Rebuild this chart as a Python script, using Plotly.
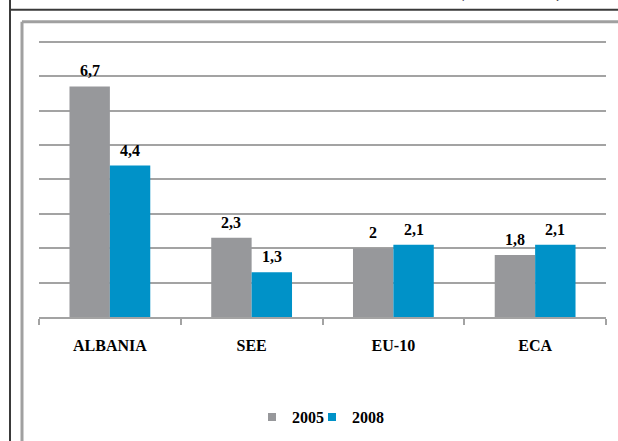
import plotly.graph_objects as go

categories = ["ALBANIA", "SEE", "EU-10", "ECA"]
series_names = ["2005", "2008"]
values_2005 = [6.7, 2.3, 2.0, 1.8]
values_2008 = [4.4, 1.3, 2.1, 2.1]
colors = ["#97989B", "#0092C8"]

Y_MAX = 8
Y_TOP = 8.05  # a little headroom so the top gridline is drawn

W, H = 618, 441
L, R, B = 39, 12, 124
PW = W - L - R
unit_px = (H - B - 42) / Y_MAX
PH = unit_px * Y_TOP
T = H - B - PH
BARGAP = 0.43
bar_px = PW / len(categories) * (1 - BARGAP) / 2

def px_x(px):
    return (px - L) / PW

def px_y(py):
    return (H - B - py) / PH

def fmt(v):
    return f"{v:g}".replace(".", ",")

serif = "Liberation Serif"
legend_font = dict(family=serif, size=16, color="black", weight="bold")
legend_ids = ["legend", "legend2"]
legend_left_px = [252, 312]

fig = go.Figure()
all_vals = [values_2005, values_2008]
for name, vals, col, lid in zip(series_names, all_vals, colors, legend_ids):
    fig.add_trace(go.Bar(x=categories, y=vals, name=name, marker_color=col,
                         marker_line_width=0, showlegend=False,
                         legendgroup=name))
    # legend entry with a small square symbol like the original
    fig.add_trace(go.Scatter(x=[None], y=[None], mode="markers", name=name,
                             legendgroup=name, legend=lid,
                             marker=dict(symbol="square", size=8, color=col)))

annotations = []
for i, vals in enumerate(all_vals):
    shift = (i - 0.5) * bar_px
    for c, v in zip(categories, vals):
        annotations.append(dict(x=c, y=v, xref="x", yref="y", text=fmt(v),
                                showarrow=False, xshift=shift, yanchor="bottom",
                                yshift=5,
                                font=dict(family=serif, size=16, color="black",
                                          weight="bold")))

annotations.append(dict(x=px_x(510), y=px_y(4), xref="paper", yref="paper",
                        text="(2005 - 2008)", showarrow=False, xanchor="center",
                        yanchor="bottom",
                        font=dict(family=serif, size=19, color="black", weight="bold")))

shapes = [
    dict(type="line", xref="paper", yref="paper", x0=px_x(10), x1=px_x(10),
         y0=px_y(450), y1=px_y(-10), line=dict(color="#3A3A3A", width=2)),
    dict(type="line", xref="paper", yref="paper", x0=px_x(10), x1=px_x(630),
         y0=px_y(10), y1=px_y(10), line=dict(color="#3A3A3A", width=2)),
    dict(type="line", xref="paper", yref="paper", x0=px_x(22), x1=px_x(22),
         y0=px_y(450), y1=px_y(22), line=dict(color="#A0A0A0", width=3)),
    dict(type="line", xref="paper", yref="paper", x0=px_x(22), x1=px_x(630),
         y0=px_y(22), y1=px_y(22), line=dict(color="#A0A0A0", width=3)),
]

legend_common = dict(orientation="h", xanchor="left", y=px_y(417),
                     yanchor="middle", itemwidth=30, font=legend_font,
                     bgcolor="rgba(0,0,0,0)")

fig.update_layout(
    width=W, height=H,
    margin=dict(l=L, r=R, t=T, b=B, pad=0, autoexpand=False),
    paper_bgcolor="white", plot_bgcolor="white",
    barmode="group", bargap=BARGAP, bargroupgap=0,
    showlegend=True,
    legend=dict(x=px_x(legend_left_px[0]), **legend_common),
    legend2=dict(x=px_x(legend_left_px[1]), **legend_common),
    annotations=annotations,
    shapes=shapes,
)
fig.update_xaxes(showline=True, linecolor="#A3A3A3", linewidth=2,
                 ticks="outside", tickson="boundaries", ticklen=6, tickwidth=2,
                 tickcolor="#A3A3A3", ticklabelstandoff=13,
                 tickfont=dict(family=serif, size=16, color="black", weight="bold"),
                 showgrid=False, zeroline=False)
fig.update_yaxes(range=[0, Y_TOP], dtick=1, showticklabels=False, showgrid=True,
                 gridcolor="#A3A3A3", gridwidth=2, zeroline=False, showline=False,
                 ticks="")

fig.write_html("out.html", config={"displayModeBar": False},
               post_script="document.body.style.margin='0';")
